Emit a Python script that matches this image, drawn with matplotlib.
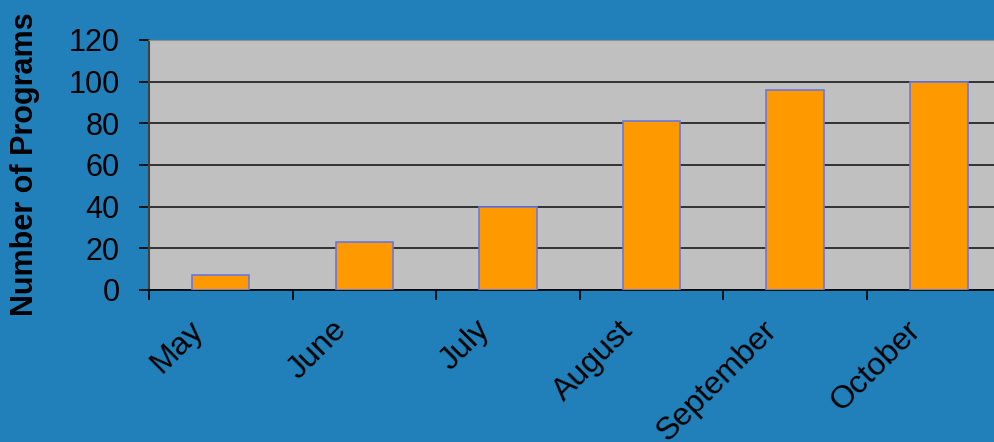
import matplotlib.pyplot as plt
import matplotlib.transforms as mtransforms
import numpy as np

months = ["May", "June", "July", "August", "September", "October"]
programs = [7, 23, 40, 81, 96, 100]
y_ticks = [0, 20, 40, 60, 80, 100, 120]

BG_BLUE = "#2180b9"
PLOT_GRAY = "#c0c0c0"
BAR_ORANGE = "#ff9900"
BAR_EDGE = "#6a78e0"

plt.rcParams["font.family"] = ["Liberation Sans", "DejaVu Sans"]

fig = plt.figure(figsize=(9.95, 4.42), dpi=100, facecolor=BG_BLUE)
# plot area runs past the right edge of the picture, as in the original slide
ax = fig.add_axes([0.1497, 0.344, 0.866, 0.5656])
ax.set_facecolor(PLOT_GRAY)

x = np.arange(len(months))
ax.bar(x, programs, width=0.4, color=BAR_ORANGE, edgecolor=BAR_EDGE,
       linewidth=1.2, zorder=3)

ax.set_xlim(-0.5, len(months) - 0.5)
ax.set_ylim(0, 120)
ax.set_yticks(y_ticks)
ax.yaxis.grid(True, color="#1a1a1a", linewidth=1.2, zorder=1)
ax.set_axisbelow(True)

# ticks sit on category boundaries; month names drawn under the centres
ax.set_xticks(np.arange(len(months) + 1) - 0.5)
ax.set_xticklabels([])
ax.tick_params(axis="x", length=7, width=1.2, color="black")
ax.tick_params(axis="y", length=7, width=1.2, color="black", pad=14,
               labelsize=22)

label_trans = ax.get_xaxis_transform() + mtransforms.ScaledTranslation(
    -12 / 100, -25 / 100, fig.dpi_scale_trans)
for xi, month in zip(x, months):
    ax.text(xi, 0, month, transform=label_trans, rotation=45,
            ha="right", va="top", fontsize=23, clip_on=False)

for side in ["top", "right"]:
    ax.spines[side].set_color("#909090")
ax.spines["left"].set_color("#404040")
ax.spines["left"].set_linewidth(1.5)
ax.spines["bottom"].set_color("black")
ax.spines["bottom"].set_linewidth(1.2)

fig.text(0.025, 0.629, "Number of Programs", rotation=90,
         ha="center", va="center", fontsize=22, fontweight="bold")

fig.savefig("out.png", dpi=100, facecolor=BG_BLUE)
